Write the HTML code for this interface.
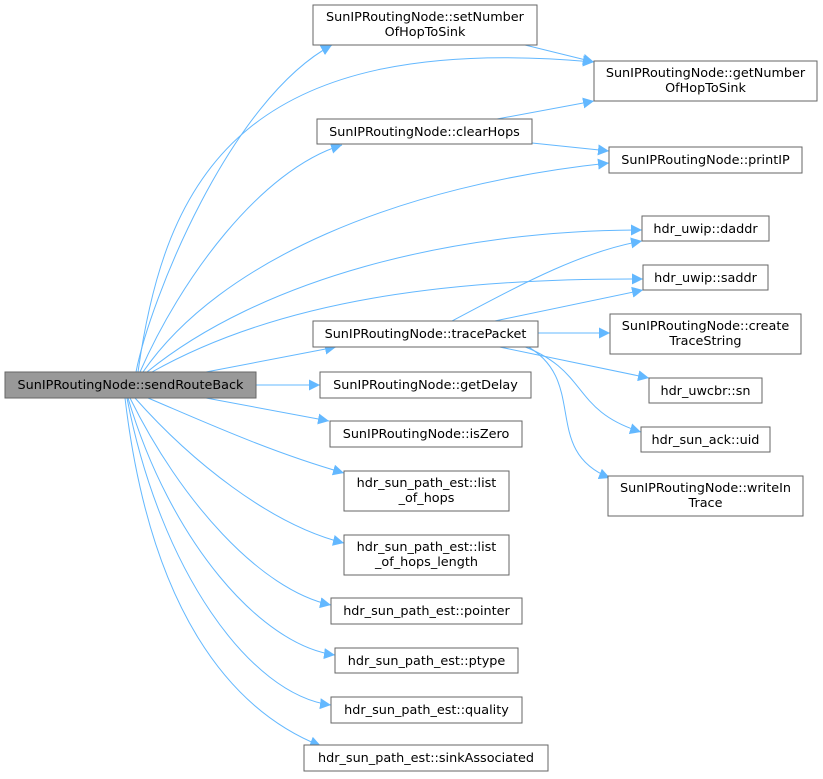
<!DOCTYPE html>
<html><head><meta charset="utf-8"><style>
html,body{margin:0;padding:0;background:#fff;}
svg{display:block;}
text{font-family:"DejaVu Sans","Liberation Sans",sans-serif;font-size:12.8px;fill:#000;}
.n{fill:#fff;stroke:#666;stroke-width:1;}
.e{fill:none;stroke:#63b8ff;stroke-width:1;}
</style></head><body>
<svg width="823" height="779" viewBox="0 0 823 779" xmlns="http://www.w3.org/2000/svg">
<defs><marker id="a" viewBox="0 0 10 10" refX="10" refY="5" markerWidth="11" markerHeight="11" markerUnits="userSpaceOnUse" orient="auto"><path d="M0,0 L10,5 L0,10 z" fill="#63b8ff"/></marker></defs>
<g class="e" marker-end="url(#a)">
<path d="M136,372 C150,300 230,100 332,45"/>
<path d="M138,372 C165,180 240,30 594,62"/>
<path d="M140,372 C180,280 260,170 342,145"/>
<path d="M143,372 C220,260 400,185 609,163"/>
<path d="M147,372 C260,280 450,230 642,230"/>
<path d="M152,372 C280,300 450,278 643,279"/>
<path d="M206,372 L336,347"/>
<path d="M256,385 L320,385"/>
<path d="M206,398 L329,421"/>
<path d="M148,398 C200,420 270,452 344,473"/>
<path d="M135,398 C190,460 270,525 344,543"/>
<path d="M130,398 C180,500 260,590 331,605"/>
<path d="M128,398 C170,540 260,645 335,655"/>
<path d="M127,398 C160,570 250,695 331,705"/>
<path d="M125,398 C150,610 230,710 321,746"/>
<path d="M450,322 C520,285 580,252 642,241"/>
<path d="M490,322 L643,290"/>
<path d="M538,333 L610,333"/>
<path d="M490,345 L649,378"/>
<path d="M520,345 C590,370 570,410 641,432"/>
<path d="M525,345 C590,380 540,450 610,478"/>
<path d="M525,45 L594,62"/>
<path d="M497,119 L594,101"/>
<path d="M532,143 L609,151"/>
</g>
<rect x="5" y="372" width="251" height="26" fill="#999" stroke="#666"/>
<text x="130.5" y="389" text-anchor="middle">SunIPRoutingNode::sendRouteBack</text>
<rect class="n" x="313" y="5" width="224" height="40"/>
<text x="425" y="21" text-anchor="middle">SunIPRoutingNode::setNumber</text>
<text x="425" y="36" text-anchor="middle">OfHopToSink</text>
<rect class="n" x="594" y="61" width="223" height="40"/>
<text x="705.5" y="77" text-anchor="middle">SunIPRoutingNode::getNumber</text>
<text x="705.5" y="92" text-anchor="middle">OfHopToSink</text>
<rect class="n" x="317" y="119" width="215" height="25"/>
<text x="424.5" y="136" text-anchor="middle">SunIPRoutingNode::clearHops</text>
<rect class="n" x="609" y="147" width="193" height="26"/>
<text x="705.5" y="164" text-anchor="middle">SunIPRoutingNode::printIP</text>
<rect class="n" x="642" y="216" width="127" height="25"/>
<text x="705.5" y="233" text-anchor="middle">hdr_uwip::daddr</text>
<rect class="n" x="643" y="265" width="125" height="25"/>
<text x="705.5" y="282" text-anchor="middle">hdr_uwip::saddr</text>
<rect class="n" x="313" y="321" width="225" height="26"/>
<text x="425.5" y="338" text-anchor="middle">SunIPRoutingNode::tracePacket</text>
<rect class="n" x="610" y="314" width="191" height="40"/>
<text x="705.5" y="330" text-anchor="middle">SunIPRoutingNode::create</text>
<text x="705.5" y="345" text-anchor="middle">TraceString</text>
<rect class="n" x="649" y="378" width="113" height="25"/>
<text x="705.5" y="395" text-anchor="middle">hdr_uwcbr::sn</text>
<rect class="n" x="641" y="427" width="129" height="25"/>
<text x="705.5" y="444" text-anchor="middle">hdr_sun_ack::uid</text>
<rect class="n" x="608" y="476" width="195" height="40"/>
<text x="705.5" y="492" text-anchor="middle">SunIPRoutingNode::writeIn</text>
<text x="705.5" y="507" text-anchor="middle">Trace</text>
<rect class="n" x="320" y="372" width="211" height="26"/>
<text x="425.5" y="389" text-anchor="middle">SunIPRoutingNode::getDelay</text>
<rect class="n" x="330" y="421" width="192" height="26"/>
<text x="426" y="438" text-anchor="middle">SunIPRoutingNode::isZero</text>
<rect class="n" x="344" y="471" width="165" height="40"/>
<text x="426.5" y="487" text-anchor="middle">hdr_sun_path_est::list</text>
<text x="426.5" y="502" text-anchor="middle">_of_hops</text>
<rect class="n" x="344" y="535" width="165" height="40"/>
<text x="426.5" y="551" text-anchor="middle">hdr_sun_path_est::list</text>
<text x="426.5" y="566" text-anchor="middle">_of_hops_length</text>
<rect class="n" x="331" y="598" width="191" height="26"/>
<text x="426.5" y="615" text-anchor="middle">hdr_sun_path_est::pointer</text>
<rect class="n" x="335" y="648" width="183" height="25"/>
<text x="426.5" y="665" text-anchor="middle">hdr_sun_path_est::ptype</text>
<rect class="n" x="331" y="697" width="191" height="26"/>
<text x="426.5" y="714" text-anchor="middle">hdr_sun_path_est::quality</text>
<rect class="n" x="304" y="745" width="244" height="26"/>
<text x="426" y="762" text-anchor="middle">hdr_sun_path_est::sinkAssociated</text>
</svg>
</body></html>
